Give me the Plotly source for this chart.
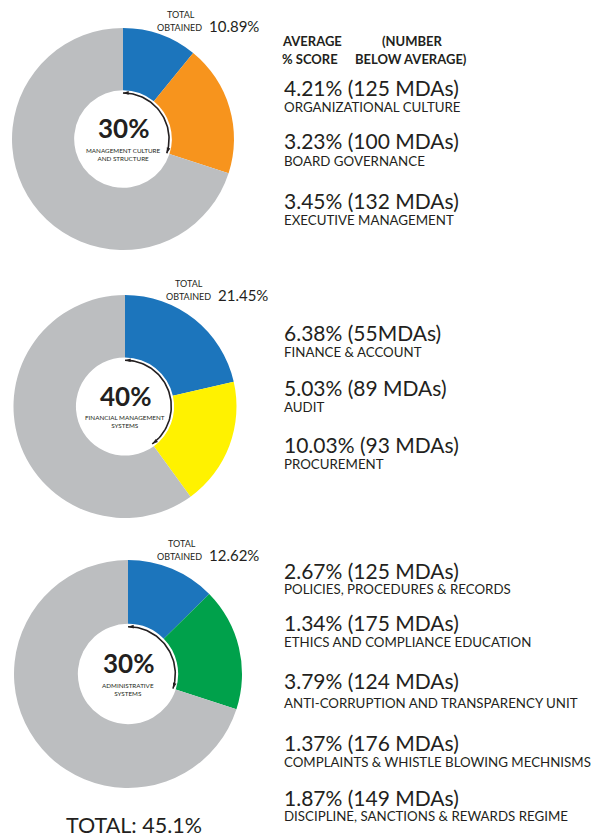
import math
import plotly.graph_objects as go

# ---------------- data ----------------
categories = ["MANAGEMENT CULTURE<br>AND STRUCTURE",
              "FINANCIAL MANAGEMENT<br>SYSTEMS",
              "ADMINISTRATIVE<br>SYSTEMS"]
weights = [30, 40, 30]                 # category weight (%)
obtained = [10.89, 21.45, 12.62]       # total obtained (%)
accent_colors = ["#F7941D", "#FFF200", "#00A14B"]
blue = "#1C75BC"
gray = "#BCBEC0"

block1_scores = ["4.21% (125 MDAs)", "3.23% (100 MDAs)", "3.45% (132 MDAs)"]
block1_labels = ["ORGANIZATIONAL CULTURE", "BOARD GOVERNANCE", "EXECUTIVE MANAGEMENT"]
block2_scores = ["6.38% (55MDAs)", "5.03% (89 MDAs)", "10.03% (93 MDAs)"]
block2_labels = ["FINANCE & ACCOUNT", "AUDIT", "PROCUREMENT"]
block3_scores = ["2.67% (125 MDAs)", "1.34% (175 MDAs)", "3.79% (124 MDAs)",
                 "1.37% (176 MDAs)", "1.87% (149 MDAs)"]
block3_labels = ["POLICIES, PROCEDURES & RECORDS", "ETHICS AND COMPLIANCE EDUCATION",
                 "ANTI-CORRUPTION AND TRANSPARENCY UNIT",
                 "COMPLAINTS & WHISTLE BLOWING MECHNISMS",
                 "DISCIPLINE, SANCTIONS & REWARDS REGIME"]
grand_total = "TOTAL: 45.1%"

# ---------------- layout geometry (pixels) ----------------
W, H = 596, 839
FONT = "Lato"
INK = "#231F20"
centers = [(123, 139, 111), (125, 406.5, 111.5), (128, 674, 114)]
score_y = [[87, 140, 200], [332, 387, 444], [570, 622, 680, 742, 797]]
label_y = [[107, 161, 220], [352, 407, 464], [589, 642, 703, 762, 816]]
score_x = 282

fig = go.Figure()
annotations = []


def ann(x, y, text, size, xanchor="left", bold=False, align="left"):
    annotations.append(dict(
        x=x, y=y, xref="x", yref="y", text=text, showarrow=False,
        xanchor=xanchor, yanchor="middle", align=align,
        font=dict(family=FONT, size=size, color=INK, weight=700 if bold else 400)))


for i, (cx, cy, r) in enumerate(centers):
    vals = [obtained[i], weights[i] - obtained[i], 100 - weights[i]]
    fig.add_trace(go.Pie(
        values=vals, sort=False, direction="clockwise", rotation=0,
        hole=0.44, textinfo="none", hoverinfo="skip", showlegend=False,
        marker=dict(colors=[blue, accent_colors[i], gray], line=dict(width=0)),
        domain=dict(x=[(cx - r) / W, (cx + r) / W],
                    y=[1 - (cy + r) / H, 1 - (cy - r) / H])))

    # arc arrow inside the hole spanning the category weight
    R = 0.415 * r
    span = weights[i] / 100 * 360
    n = 60
    th = [span * k / n for k in range(n + 1)]
    ax = [cx + R * math.sin(math.radians(t)) for t in th]
    ay = [cy - R * math.cos(math.radians(t)) for t in th]
    fig.add_trace(go.Scatter(x=ax, y=ay, mode="lines", hoverinfo="skip",
                             showlegend=False, line=dict(color=INK, width=1.6)))
    fig.add_trace(go.Scatter(
        x=[ax[0], ax[-1]], y=[ay[0], ay[-1]], mode="markers", hoverinfo="skip",
        showlegend=False,
        marker=dict(symbol="arrow", size=6, color=INK, angle=[-90, span + 90])))

    # centre texts
    ann(cx, cy - 11, f"<b>{weights[i]}%</b>", 26, xanchor="center", bold=True)
    ann(cx, cy + 15, categories[i], 6.3, xanchor="center", align="center")

    # total obtained
    ann(181 + (i == 1) * 8 + (i == 2) * 1, cy - r - 14 + (i == 1) * 2 - (i == 2) * 3,
        "TOTAL", 9, xanchor="center")
    ann(204 + (i == 1) * 9, cy - r - 1 + (i == 1) * 2 - (i == 2) * 3,
        "OBTAINED", 9, xanchor="right")
    ann(207 + (i == 1) * 9, cy - r - 2 + (i == 1) * 2 - (i == 2) * 3,
        f"{obtained[i]:.2f}%", 15)

# header
ann(280, 41, "AVERAGE", 13, bold=True)
ann(280, 59, "% SCORE", 13, bold=True)
ann(380, 41, "(NUMBER", 13, bold=True)
ann(353, 59, "BELOW AVERAGE)", 13, bold=True)

blocks = [(block1_scores, block1_labels), (block2_scores, block2_labels),
          (block3_scores, block3_labels)]
for b, (scores, labels) in enumerate(blocks):
    for j, (s, l) in enumerate(zip(scores, labels)):
        ann(score_x, score_y[b][j], s, 21)
        ann(score_x, label_y[b][j], l, 13.3)

ann(134, 825, grand_total, 21.5, xanchor="center")

fig.update_layout(
    width=W, height=H, margin=dict(l=0, r=0, t=0, b=0),
    paper_bgcolor="white", plot_bgcolor="rgba(0,0,0,0)",
    xaxis=dict(range=[0, W], visible=False, fixedrange=True),
    yaxis=dict(range=[H, 0], visible=False, fixedrange=True),
    annotations=annotations, showlegend=False)

fig.write_html("out.html", config={"displayModeBar": False},
               post_script="document.body.style.margin='0';document.body.style.overflow='hidden';")
